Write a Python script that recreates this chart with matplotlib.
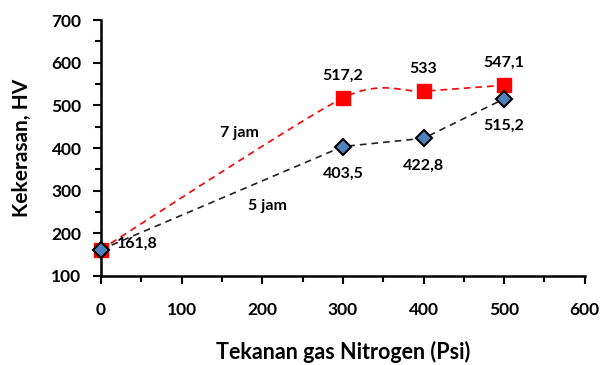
import numpy as np
import matplotlib
matplotlib.use("Agg")
import matplotlib.pyplot as plt
from matplotlib.ticker import MultipleLocator

plt.rcParams['font.family'] = ['Lato', 'DejaVu Sans']
plt.rcParams['font.weight'] = 'bold'

tekanan = [0, 300, 400, 500]
hv_7jam = [161.8, 517.2, 533, 547.1]
hv_5jam = [161.8, 403.5, 422.8, 515.2]
label_7jam = ['161,8', '517,2', '533', '547,1']
label_5jam = ['161,8', '403,5', '422,8', '515,2']


def smooth_curve(x, y, n=40, tension=0.12):
    # cubic bezier through the points, like a spreadsheet "smoothed line"
    x = np.asarray(x, float)
    y = np.asarray(y, float)
    px, py = [], []
    for i in range(len(x) - 1):
        p0 = np.array([x[max(i - 1, 0)], y[max(i - 1, 0)]])
        p1 = np.array([x[i], y[i]])
        p2 = np.array([x[i + 1], y[i + 1]])
        p3 = np.array([x[min(i + 2, len(x) - 1)], y[min(i + 2, len(x) - 1)]])
        c1 = p1 + (p2 - p0) * tension
        c2 = p2 - (p3 - p1) * tension
        t = np.linspace(0, 1, n)[:, None]
        pts = ((1 - t) ** 3) * p1 + 3 * ((1 - t) ** 2) * t * c1 + 3 * (1 - t) * t ** 2 * c2 + t ** 3 * p2
        px.extend(pts[:, 0])
        py.extend(pts[:, 1])
    return px, py


fig = plt.figure(figsize=(6.01, 3.65), dpi=100)
ax = fig.add_axes([0.168, 0.244, 0.805, 0.701])

sx, sy = smooth_curve(tekanan, hv_7jam)
ax.plot(sx, sy, color='#FF0000', linestyle=(0, (4, 3)), linewidth=1.2, zorder=2)
ax.plot(tekanan, hv_7jam, linestyle='none', marker='s', markersize=9.5,
        color='#FF0000', zorder=3)
ax.plot(tekanan, hv_5jam, color='#222222', linestyle=(0, (4, 3)), linewidth=1.2,
        marker='D', markersize=8.5, markerfacecolor='#4F81BD',
        markeredgecolor='black', markeredgewidth=1.5, zorder=4)

ax.set_xlim(0, 600)
ax.set_ylim(100, 700)
ax.xaxis.set_major_locator(MultipleLocator(100))
ax.xaxis.set_minor_locator(MultipleLocator(50))
ax.yaxis.set_major_locator(MultipleLocator(100))
ax.yaxis.set_minor_locator(MultipleLocator(50))
ax.tick_params(which='major', length=6, width=1.5, labelsize=12.5)
ax.tick_params(which='minor', length=4, width=1.5)
ax.tick_params(axis='x', pad=13)
ax.tick_params(axis='y', pad=8)
for s in ['top', 'right']:
    ax.spines[s].set_visible(False)
for s in ['left', 'bottom']:
    ax.spines[s].set_linewidth(1.8)
for ln in ax.lines:
    ln.set_clip_on(False)

ax.set_xlabel('Tekanan gas Nitrogen (Psi)', fontsize=15.5, fontweight='bold', labelpad=16)
ax.set_ylabel('Kekerasan, HV', fontsize=15, fontweight='bold', labelpad=14)

fs = 11.5
ax.text(tekanan[0] + 20, hv_7jam[0] + 14, label_7jam[0], fontsize=fs, ha='left', va='center')
for x, y, lab in zip(tekanan[1:], hv_7jam[1:], label_7jam[1:]):
    ax.text(x, y + 53, lab, fontsize=fs, ha='center', va='center')
for x, y, lab in zip(tekanan[1:], hv_5jam[1:], label_5jam[1:]):
    ax.text(x, y - 64, lab, fontsize=fs, ha='center', va='center')

ax.text(172, 435, '7 jam', fontsize=fs, ha='center', va='center')
ax.text(207, 265, '5 jam', fontsize=fs, ha='center', va='center')

fig.savefig('out.png', dpi=100)
